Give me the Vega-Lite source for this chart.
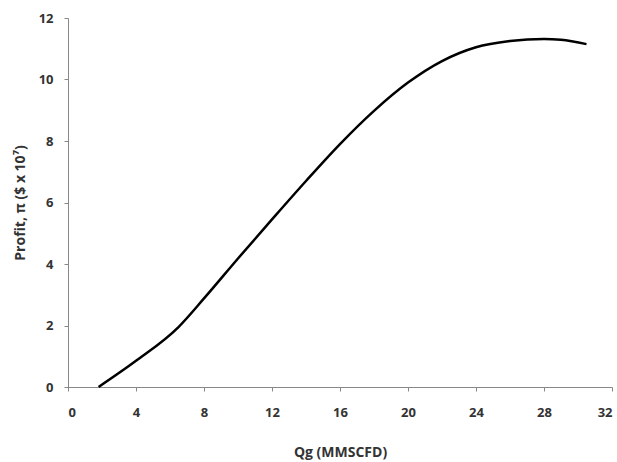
{
  "$schema": "https://vega.github.io/schema/vega-lite/v6.json",
  "width": 544,
  "height": 369,
  "autosize": {"type": "none"},
  "padding": {"left": 68, "top": 18, "right": 5, "bottom": 75},
  "background": "white",
  "config": {"view": {"stroke": null}},
  "data": {"values": [
    {"qg": 1.8, "profit": 0.0},
    {"qg": 4, "profit": 0.85},
    {"qg": 6.5, "profit": 1.95},
    {"qg": 8, "profit": 2.88},
    {"qg": 10, "profit": 4.18},
    {"qg": 12, "profit": 5.45},
    {"qg": 14, "profit": 6.7},
    {"qg": 16, "profit": 7.9},
    {"qg": 18, "profit": 8.98},
    {"qg": 20, "profit": 9.9},
    {"qg": 22, "profit": 10.6},
    {"qg": 24, "profit": 11.05},
    {"qg": 26, "profit": 11.25},
    {"qg": 28, "profit": 11.32},
    {"qg": 29, "profit": 11.29},
    {"qg": 30.5, "profit": 11.15}
  ]},
  "mark": {"type": "line", "color": "black", "strokeWidth": 2.5, "interpolate": "monotone"},
  "encoding": {
    "x": {"field": "qg", "type": "quantitative",
      "scale": {"domain": [0, 32], "nice": false},
      "axis": {"values": [0,4,8,12,16,20,24,28,32], "grid": false, "title": "Qg (MMSCFD)",
        "domainColor": "#888", "tickColor": "#888", "tickSize": 4,
        "labelFont": "Open Sans", "labelFontWeight": "bold", "labelFontSize": 13, "labelColor": "#333", "labelPadding": 15,
        "titleFont": "Open Sans", "titleFontWeight": "bold", "titleFontSize": 14, "titleColor": "#333", "titlePadding": 26}},
    "y": {"field": "profit", "type": "quantitative",
      "scale": {"domain": [0, 12], "nice": false},
      "axis": {"values": [0,2,4,6,8,10,12], "grid": false, "title": "Profit, π ($ x 10⁷)",
        "domainColor": "#888", "tickColor": "#888", "tickSize": 4,
        "labelFont": "Open Sans", "labelFontWeight": "bold", "labelFontSize": 13, "labelColor": "#333", "labelPadding": 11,
        "titleFont": "Open Sans", "titleFontWeight": "bold", "titleFontSize": 14, "titleColor": "#333", "titlePadding": 11}}
  }
}
